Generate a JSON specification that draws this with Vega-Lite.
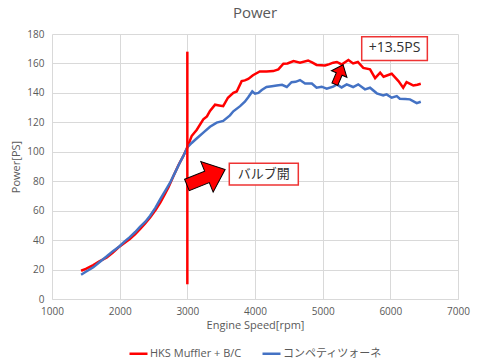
{
  "$schema": "https://vega.github.io/schema/vega-lite/v6.json",
  "width": 406,
  "height": 265,
  "autosize": {"type": "none"},
  "padding": {"left": 52, "top": 34, "right": 22, "bottom": 65},
  "background": "white",
  "title": {"text": "Power", "fontSize": 15, "fontWeight": "normal", "color": "#595959", "offset": 8, "anchor": "middle", "font": "Open Sans, Noto Sans CJK JP"},
  "config": {
    "font": "Open Sans, Noto Sans CJK JP",
    "view": {"stroke": null},
    "axis": {"gridColor": "#d9d9d9", "gridWidth": 1, "labelColor": "#595959", "titleColor": "#595959", "labelFontSize": 10, "titleFontSize": 11, "titleFontWeight": "normal", "ticks": false, "domain": false, "labelOverlap": false, "labelFlush": false}
  },
  "datasets": {
    "curves": [
      {"rpm":1430,"ps":19.2,"s":"HKS Muffler + B/C"},{"rpm":1500,"ps":20.5,"s":"HKS Muffler + B/C"},{"rpm":1610,"ps":23,"s":"HKS Muffler + B/C"},{"rpm":1700,"ps":25.5,"s":"HKS Muffler + B/C"},{"rpm":1810,"ps":28.2,"s":"HKS Muffler + B/C"},{"rpm":1900,"ps":31.5,"s":"HKS Muffler + B/C"},{"rpm":1980,"ps":35,"s":"HKS Muffler + B/C"},{"rpm":2070,"ps":38,"s":"HKS Muffler + B/C"},{"rpm":2150,"ps":40.7,"s":"HKS Muffler + B/C"},{"rpm":2230,"ps":44,"s":"HKS Muffler + B/C"},{"rpm":2300,"ps":47.5,"s":"HKS Muffler + B/C"},{"rpm":2380,"ps":51.5,"s":"HKS Muffler + B/C"},{"rpm":2450,"ps":55.4,"s":"HKS Muffler + B/C"},{"rpm":2530,"ps":60.5,"s":"HKS Muffler + B/C"},{"rpm":2600,"ps":65.5,"s":"HKS Muffler + B/C"},{"rpm":2660,"ps":70.5,"s":"HKS Muffler + B/C"},{"rpm":2720,"ps":75.7,"s":"HKS Muffler + B/C"},{"rpm":2800,"ps":84,"s":"HKS Muffler + B/C"},{"rpm":2870,"ps":91,"s":"HKS Muffler + B/C"},{"rpm":2940,"ps":97,"s":"HKS Muffler + B/C"},{"rpm":3000,"ps":103,"s":"HKS Muffler + B/C"},{"rpm":3064,"ps":110.7,"s":"HKS Muffler + B/C"},{"rpm":3140,"ps":115,"s":"HKS Muffler + B/C"},{"rpm":3236,"ps":122,"s":"HKS Muffler + B/C"},{"rpm":3290,"ps":124,"s":"HKS Muffler + B/C"},{"rpm":3335,"ps":127.7,"s":"HKS Muffler + B/C"},{"rpm":3410,"ps":132,"s":"HKS Muffler + B/C"},{"rpm":3470,"ps":131.5,"s":"HKS Muffler + B/C"},{"rpm":3530,"ps":131,"s":"HKS Muffler + B/C"},{"rpm":3600,"ps":136.7,"s":"HKS Muffler + B/C"},{"rpm":3680,"ps":140,"s":"HKS Muffler + B/C"},{"rpm":3730,"ps":141,"s":"HKS Muffler + B/C"},{"rpm":3803,"ps":148,"s":"HKS Muffler + B/C"},{"rpm":3850,"ps":148.5,"s":"HKS Muffler + B/C"},{"rpm":3900,"ps":149.5,"s":"HKS Muffler + B/C"},{"rpm":3970,"ps":152,"s":"HKS Muffler + B/C"},{"rpm":4070,"ps":154.6,"s":"HKS Muffler + B/C"},{"rpm":4170,"ps":154.5,"s":"HKS Muffler + B/C"},{"rpm":4270,"ps":154.8,"s":"HKS Muffler + B/C"},{"rpm":4345,"ps":156,"s":"HKS Muffler + B/C"},{"rpm":4420,"ps":159.8,"s":"HKS Muffler + B/C"},{"rpm":4480,"ps":160,"s":"HKS Muffler + B/C"},{"rpm":4570,"ps":161.6,"s":"HKS Muffler + B/C"},{"rpm":4665,"ps":160.5,"s":"HKS Muffler + B/C"},{"rpm":4785,"ps":162,"s":"HKS Muffler + B/C"},{"rpm":4850,"ps":160.5,"s":"HKS Muffler + B/C"},{"rpm":4910,"ps":159,"s":"HKS Muffler + B/C"},{"rpm":5035,"ps":158.6,"s":"HKS Muffler + B/C"},{"rpm":5100,"ps":159.5,"s":"HKS Muffler + B/C"},{"rpm":5155,"ps":160.5,"s":"HKS Muffler + B/C"},{"rpm":5210,"ps":161,"s":"HKS Muffler + B/C"},{"rpm":5280,"ps":159.3,"s":"HKS Muffler + B/C"},{"rpm":5380,"ps":162.3,"s":"HKS Muffler + B/C"},{"rpm":5450,"ps":160,"s":"HKS Muffler + B/C"},{"rpm":5520,"ps":161,"s":"HKS Muffler + B/C"},{"rpm":5600,"ps":157,"s":"HKS Muffler + B/C"},{"rpm":5700,"ps":156,"s":"HKS Muffler + B/C"},{"rpm":5775,"ps":150,"s":"HKS Muffler + B/C"},{"rpm":5850,"ps":153.7,"s":"HKS Muffler + B/C"},{"rpm":5900,"ps":151,"s":"HKS Muffler + B/C"},{"rpm":6020,"ps":153,"s":"HKS Muffler + B/C"},{"rpm":6120,"ps":148,"s":"HKS Muffler + B/C"},{"rpm":6190,"ps":143.5,"s":"HKS Muffler + B/C"},{"rpm":6240,"ps":147.3,"s":"HKS Muffler + B/C"},{"rpm":6300,"ps":146,"s":"HKS Muffler + B/C"},{"rpm":6340,"ps":145,"s":"HKS Muffler + B/C"},{"rpm":6400,"ps":145.5,"s":"HKS Muffler + B/C"},{"rpm":6450,"ps":146.2,"s":"HKS Muffler + B/C"},
      {"rpm":1430,"ps":16.5,"s":"コンペティツォーネ"},{"rpm":1500,"ps":18.5,"s":"コンペティツォーネ"},{"rpm":1610,"ps":21.5,"s":"コンペティツォーネ"},{"rpm":1700,"ps":25,"s":"コンペティツォーネ"},{"rpm":1810,"ps":29,"s":"コンペティツォーネ"},{"rpm":1900,"ps":32.5,"s":"コンペティツォーネ"},{"rpm":1990,"ps":35.5,"s":"コンペティツォーネ"},{"rpm":2070,"ps":39,"s":"コンペティツォーネ"},{"rpm":2150,"ps":42,"s":"コンペティツォーネ"},{"rpm":2230,"ps":45.5,"s":"コンペティツォーネ"},{"rpm":2300,"ps":49,"s":"コンペティツォーネ"},{"rpm":2380,"ps":52.5,"s":"コンペティツォーネ"},{"rpm":2450,"ps":56.5,"s":"コンペティツォーネ"},{"rpm":2530,"ps":62,"s":"コンペティツォーネ"},{"rpm":2600,"ps":67.8,"s":"コンペティツォーネ"},{"rpm":2680,"ps":74,"s":"コンペティツォーネ"},{"rpm":2745,"ps":79,"s":"コンペティツォーネ"},{"rpm":2820,"ps":86,"s":"コンペティツォーネ"},{"rpm":2890,"ps":92.7,"s":"コンペティツォーネ"},{"rpm":2950,"ps":98,"s":"コンペティツォーネ"},{"rpm":3000,"ps":103,"s":"コンペティツォーネ"},{"rpm":3064,"ps":106,"s":"コンペティツォーネ"},{"rpm":3150,"ps":109.5,"s":"コンペティツォーネ"},{"rpm":3236,"ps":113,"s":"コンペティツォーネ"},{"rpm":3335,"ps":117,"s":"コンペティツォーネ"},{"rpm":3434,"ps":119.8,"s":"コンペティツォーネ"},{"rpm":3530,"ps":121,"s":"コンペティツォーネ"},{"rpm":3630,"ps":124.7,"s":"コンペティツォーネ"},{"rpm":3680,"ps":127.5,"s":"コンペティツォーネ"},{"rpm":3780,"ps":131,"s":"コンペティツォーネ"},{"rpm":3850,"ps":134,"s":"コンペティツォーネ"},{"rpm":3900,"ps":137,"s":"コンペティツォーネ"},{"rpm":3960,"ps":141,"s":"コンペティツォーネ"},{"rpm":4000,"ps":139.5,"s":"コンペティツォーネ"},{"rpm":4050,"ps":140,"s":"コンペティツォーネ"},{"rpm":4100,"ps":142,"s":"コンペティツォーネ"},{"rpm":4170,"ps":144,"s":"コンペティツォーネ"},{"rpm":4250,"ps":144.5,"s":"コンペティツォーネ"},{"rpm":4320,"ps":145,"s":"コンペティツォーネ"},{"rpm":4400,"ps":145.5,"s":"コンペティツォーネ"},{"rpm":4470,"ps":144,"s":"コンペティツォーネ"},{"rpm":4540,"ps":147.3,"s":"コンペティツォーネ"},{"rpm":4600,"ps":147.5,"s":"コンペティツォーネ"},{"rpm":4665,"ps":148.7,"s":"コンペティツォーネ"},{"rpm":4740,"ps":146.4,"s":"コンペティツォーネ"},{"rpm":4840,"ps":146.4,"s":"コンペティツォーネ"},{"rpm":4910,"ps":143.5,"s":"コンペティツォーネ"},{"rpm":4985,"ps":144.2,"s":"コンペティツォーネ"},{"rpm":5060,"ps":142.8,"s":"コンペティツォーネ"},{"rpm":5155,"ps":144.2,"s":"コンペティツォーネ"},{"rpm":5210,"ps":145.8,"s":"コンペティツォーネ"},{"rpm":5280,"ps":143.7,"s":"コンペティツォーネ"},{"rpm":5355,"ps":145.8,"s":"コンペティツォーネ"},{"rpm":5450,"ps":144,"s":"コンペティツォーネ"},{"rpm":5525,"ps":145.8,"s":"コンペティツォーネ"},{"rpm":5625,"ps":142.4,"s":"コンペティツォーネ"},{"rpm":5700,"ps":143.5,"s":"コンペティツォーネ"},{"rpm":5800,"ps":139.7,"s":"コンペティツォーネ"},{"rpm":5895,"ps":138.3,"s":"コンペティツォーネ"},{"rpm":5945,"ps":139,"s":"コンペティツォーネ"},{"rpm":6020,"ps":136.7,"s":"コンペティツォーネ"},{"rpm":6095,"ps":137.8,"s":"コンペティツォーネ"},{"rpm":6140,"ps":136,"s":"コンペティツォーネ"},{"rpm":6220,"ps":135.8,"s":"コンペティツォーネ"},{"rpm":6290,"ps":135.6,"s":"コンペティツォーネ"},{"rpm":6390,"ps":133,"s":"コンペティツォーネ"},{"rpm":6450,"ps":134,"s":"コンペティツォーネ"}
    ],
    "vline": [{"rpm": 3000, "lo": 10, "hi": 168}],
    "boxes": [
      {"x1": 3620, "x2": 4640, "y1": 77.5, "y2": 92.2, "tx": 4130, "ty": 84.9, "label": "バルブ開", "fs": 13},
      {"x1": 5577, "x2": 6547, "y1": 162, "y2": 178.1, "tx": 6062, "ty": 170.2, "label": "+13.5PS", "fs": 14}
    ],
    "arrows": [
      {"rpm": 3276, "ps": 82.7, "ang": -22, "sz": 1700},
      {"rpm": 5241, "ps": 152.5, "ang": -67, "sz": 441}
    ]
  },
  "layer": [
    {
      "data": {"name": "curves"},
      "mark": {"type": "line", "strokeWidth": 2.5, "interpolate": "linear"},
      "encoding": {
        "x": {"field": "rpm", "type": "quantitative", "scale": {"domain": [1000, 7000], "nice": false, "zero": false},
              "axis": {"values": [1000, 2000, 3000, 4000, 5000, 6000, 7000], "format": "d", "title": "Engine Speed[rpm]", "labelPadding": 7, "titlePadding": 3, "domain": true, "domainColor": "#d9d9d9", "labelOverlap": false}},
        "y": {"field": "ps", "type": "quantitative", "scale": {"domain": [0, 180], "nice": false},
              "axis": {"values": [0, 20, 40, 60, 80, 100, 120, 140, 160, 180], "tickCount": 10, "title": "Power[PS]", "labelPadding": 8, "titlePadding": 5, "labelOverlap": false, "labelSeparation": 0}},
        "color": {"field": "s", "type": "nominal",
                  "scale": {"domain": ["HKS Muffler + B/C", "コンペティツォーネ"], "range": ["#ff0000", "#4472c4"]},
                  "legend": {"title": null, "orient": "none", "legendX": 76, "legendY": 309, "direction": "horizontal", "symbolType": "stroke", "symbolStrokeWidth": 2.5, "symbolSize": 324, "labelFontSize": 11, "labelColor": "#595959", "labelOffset": 1, "columnPadding": 15}},
        "order": {"field": "rpm", "type": "quantitative"}
      }
    },
    {
      "data": {"name": "vline"},
      "mark": {"type": "rule", "color": "#ff0000", "strokeWidth": 2.5},
      "encoding": {
        "x": {"field": "rpm", "type": "quantitative"},
        "y": {"field": "lo", "type": "quantitative"},
        "y2": {"field": "hi"}
      }
    },
    {
      "data": {"name": "boxes"},
      "mark": {"type": "rect", "fill": "white", "stroke": "#ee3333", "strokeWidth": 1.5},
      "encoding": {
        "x": {"field": "x1", "type": "quantitative"},
        "x2": {"field": "x2"},
        "y": {"field": "y1", "type": "quantitative"},
        "y2": {"field": "y2"}
      }
    },
    {
      "data": {"name": "boxes"},
      "mark": {"type": "text", "align": "center", "baseline": "middle", "color": "#303030"},
      "encoding": {
        "x": {"field": "tx", "type": "quantitative"},
        "y": {"field": "ty", "type": "quantitative"},
        "text": {"field": "label"},
        "size": {"field": "fs", "type": "quantitative", "scale": null}
      }
    },
    {
      "data": {"name": "arrows"},
      "mark": {"type": "point", "shape": "M -1 -0.3 L 0.05 -0.3 L 0.05 -0.8 L 1 0 L 0.05 0.8 L 0.05 0.3 L -1 0.3 Z", "filled": true, "fill": "#ff0000", "stroke": "#000000", "strokeWidth": 1, "opacity": 1},
      "encoding": {
        "x": {"field": "rpm", "type": "quantitative"},
        "y": {"field": "ps", "type": "quantitative"},
        "angle": {"field": "ang", "type": "quantitative", "scale": null},
        "size": {"field": "sz", "type": "quantitative", "scale": null}
      }
    }
  ]
}
